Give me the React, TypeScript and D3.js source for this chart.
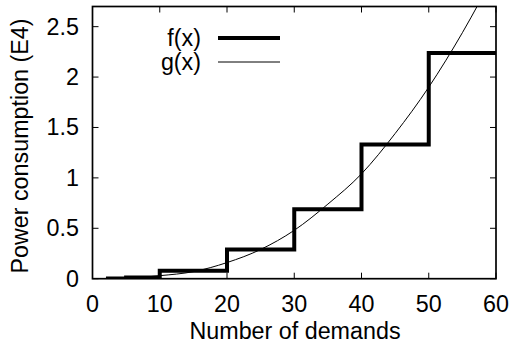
import React from 'react';
import * as d3 from 'd3';

const stepX = [2, 5, 10, 20, 30, 40, 50, 60];
const stepY = [0.003, 0.012, 0.08, 0.29, 0.69, 1.33, 2.24, 2.24];
const curveX = [0, 5, 10, 15, 20, 25, 30, 35, 40, 45, 50, 55, 60];
const curveY = [0, 0.005, 0.03, 0.07, 0.16, 0.29, 0.48, 0.74, 1.04, 1.44, 1.9, 2.44, 3.05];
const xTicks = [0, 10, 20, 30, 40, 50, 60];
const yTicks = [0, 0.5, 1, 1.5, 2, 2.5];
const yTickLabels = ['0', '0.5', '1', '1.5', '2', '2.5'];
const legendLabels = ['f(x)', 'g(x)'];

const W = 512, H = 353;
const L = 92.5, R = 496, T = 6.5, B = 278.7;
const FONT = 'Liberation Sans, Arial, Helvetica, sans-serif';
const FS = 23.3;

export default function App() {
  const x = d3.scaleLinear().domain([0, 60]).range([L, R]);
  const y = d3.scaleLinear().domain([0, 2.7]).range([B, T]);
  const fPath = d3.line<number>().x((_, i) => x(stepX[i])).y((d) => y(d)).curve(d3.curveStepAfter)(stepY) || '';
  const gPath = d3.line<number>().x((_, i) => x(curveX[i])).y((d) => y(d)).curve(d3.curveMonotoneX)(curveY) || '';
  return (
    <svg width={W} height={H} style={{ position: 'absolute', left: 0, top: 0, background: '#fff' }} fontFamily={FONT}>
      <defs>
        <clipPath id="clip"><rect x={L} y={T} width={R - L} height={B - T} /></clipPath>
      </defs>
      <rect x={0} y={0} width={W} height={H} fill="#fff" />
      {xTicks.map((t) => (
        <g key={'x' + t}>
          <line x1={x(t)} x2={x(t)} y1={B} y2={B - 6} stroke="#000" strokeWidth={1} />
          <line x1={x(t)} x2={x(t)} y1={T} y2={T + 6} stroke="#000" strokeWidth={1} />
          <text x={x(t)} y={304} textAnchor="middle" dominantBaseline="central" fontSize={FS}>{t}</text>
        </g>
      ))}
      {yTicks.map((t, i) => (
        <g key={'y' + t}>
          <line x1={L} x2={L + 6} y1={y(t)} y2={y(t)} stroke="#000" strokeWidth={1} />
          <line x1={R} x2={R - 6} y1={y(t)} y2={y(t)} stroke="#000" strokeWidth={1} />
          <text x={79} y={y(t)} textAnchor="end" dominantBaseline="central" fontSize={FS}>{yTickLabels[i]}</text>
        </g>
      ))}
      <g clipPath="url(#clip)">
        <path d={gPath} fill="none" stroke="#000" strokeWidth={1} />
        <path d={fPath} fill="none" stroke="#000" strokeWidth={4} />
      </g>
      <rect x={L} y={T} width={R - L} height={B - T} fill="none" stroke="#000" strokeWidth={1.7} />
      <text x={201} y={38} textAnchor="end" dominantBaseline="central" fontSize={FS}>{legendLabels[0]}</text>
      <line x1={218} x2={280} y1={38} y2={38} stroke="#000" strokeWidth={4} />
      <text x={201} y={62} textAnchor="end" dominantBaseline="central" fontSize={FS}>{legendLabels[1]}</text>
      <line x1={218} x2={280} y1={62} y2={62} stroke="#000" strokeWidth={1} />
      <text x={295} y={331} textAnchor="middle" dominantBaseline="central" fontSize={FS}>Number of demands</text>
      <text transform={`translate(20,146) rotate(-90)`} textAnchor="middle" dominantBaseline="central" fontSize={FS}>Power consumption (E4)</text>
    </svg>
  );
}
